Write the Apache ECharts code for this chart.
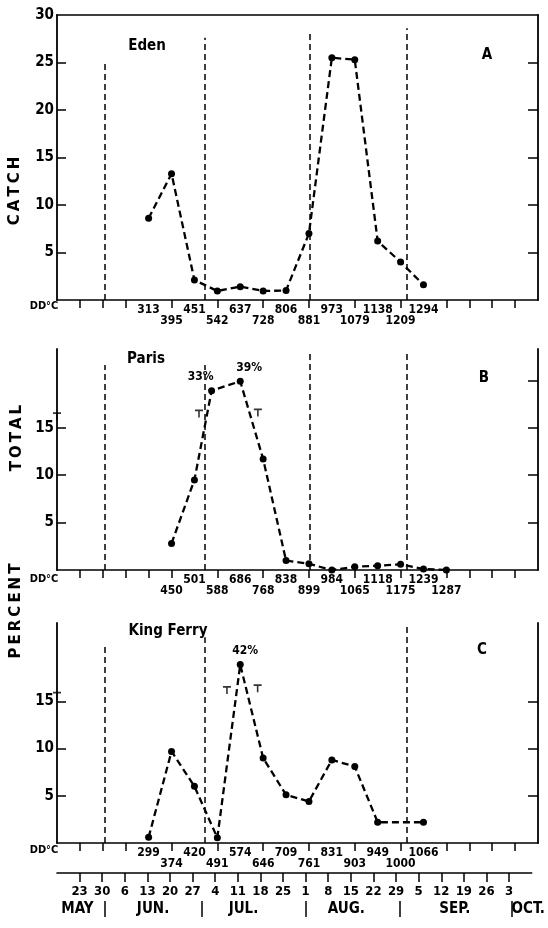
<!DOCTYPE html>
<html><head><meta charset="utf-8">
<script src="https://cdn.jsdelivr.net/npm/echarts@6/dist/echarts.min.js"></script>
<style>html,body{margin:0;padding:0;background:#fff}#c{width:548px;height:928px}</style>
</head><body><div id="c"></div>
<script>
// x values are week indices: 0 = May 23, 1 = May 30, ... 19 = Oct 3
const weekDates = ['23','30','6','13','20','27','4','11','18','25','1','8','15','22','29','5','12','19','26','3'];
const monthNames = ['MAY','JUN.','JUL.','AUG.','SEP.','OCT.'];
const monthNamePos = [-0.1, 3.25, 7.25, 11.8, 16.6, 19.85];
const monthSeparators = [1.1, 5.42, 10.0, 14.15, 19.13];
const monthLines = [1.1, 5.45, 10.05, 14.25];

// Panel A: Eden (catch)
const edenWeeks = [3,4,5,6,7,8,9,10,11,12,13,14,15];
const edenDD = [313,395,451,542,637,728,806,881,973,1079,1138,1209,1294];
const edenCatch = [8.6,13.3,2.1,0.95,1.4,0.95,1.0,7.0,25.5,25.3,6.2,4.0,1.6];
const edenLineTops = [25.1,27.6,28.2,28.6];

// Panel B: Paris (total percent)
const parisWeeks = [4,5,5.75,7,8,9,10,11,12,13,14,15,16];
const parisDDWeeks = [4,5,6,7,8,9,10,11,12,13,14,15,16];
const parisDD = [450,501,588,686,768,838,899,984,1065,1118,1175,1239,1287];
const parisPct = [2.8,9.5,18.9,19.9,11.7,1.0,0.65,0,0.35,0.45,0.6,0.1,0];
const parisNotes = ['','','33%','39%','','','','','','','','',''];
const parisBreaks = [[5.2,16.5],[7.77,16.6],[-1,16.2]];
const parisLineTops = [21.6,21.6,23.1,23.1];

// Panel C: King Ferry (total percent)
const kfWeeks = [3,4,5,6,7,8,9,10,11,12,13,15];
const kfDDWeeks = [3,4,5,6,7,8,9,10,11,12,13,14,15];
const kfDD = [299,374,420,491,574,646,709,761,831,903,949,1000,1066];
const kfPct = [0.6,9.7,6.0,0.55,18.9,9.0,5.1,4.4,8.8,8.1,2.2,2.2];
const kfNotes = ['','','','','42%','','','','','','',''];
const kfBreaks = [[6.42,16.2],[7.76,16.4],[-1,15.6]];
const kfLineTops = [21.1,21.8,23.4,23.2];

const FONT = "'Liberation Sans Narrow','DejaVu Sans Condensed','Arial Narrow',sans-serif";
const BOLD = {color:'#000', fontFamily:FONT, fontWeight:'bold'};
const ALLW = weekDates.map((d,i)=>i);
const noteOffset = {'33%':[-11,0], '39%':[9,0], '42%':[5,0]};
const TSYM = 'path://M0,0L10,0L10,2L6,2L6,9L4,9L4,2L0,2Z';

function nearestIdx(arr, v){let b=-1,bd=1e9;arr.forEach((a,i)=>{const d=Math.abs(a-v);if(d<bd){bd=d;b=i;}});return bd<0.01?b:-1;}

function ddAxes(gridIndex, ddWeeks, dd){
  const upper = ddWeeks.filter(w=>w%2===1);
  const lower = ddWeeks.filter(w=>w%2===0);
  const lab = v => {const k=nearestIdx(ddWeeks,v);return k>=0?String(dd[k]):'';};
  const base = {type:'value', gridIndex, position:'bottom', min:-1, max:20, splitLine:{show:false}};
  return [
    Object.assign({}, base, {
      axisLine:{show:true, onZero:false, lineStyle:{color:'#000', width:1.6}},
      axisTick:{show:true, inside:false, length:8, lineStyle:{color:'#000', width:1.5}, customValues: ALLW.filter(w=>!upper.includes(w))},
      axisLabel:Object.assign({show:true, customValues:upper, formatter:lab, margin:4, fontSize:12}, BOLD)}),
    Object.assign({}, base, {
      axisLine:{show:false, onZero:false}, axisTick:{show:false},
      axisLabel:Object.assign({show:true, customValues:lower, formatter:lab, margin:15, fontSize:12}, BOLD)})
  ];
}
function yAxes(gridIndex, max, leftLabels, leftTicks, rightTicks){
  return [
    {type:'value', gridIndex, position:'left', min:0, max, splitLine:{show:false},
     axisLine:{show:true, onZero:false, lineStyle:{color:'#000', width:1.8}},
     axisTick:{show:true, inside:true, length:9, customValues:leftTicks, lineStyle:{color:'#000', width:1.5}},
     axisLabel:Object.assign({show:true, customValues:leftLabels, margin:3, fontSize:15}, BOLD)},
    {type:'value', gridIndex, position:'right', min:0, max, splitLine:{show:false},
     axisLine:{show:true, onZero:false, lineStyle:{color:'#000', width:1.8}},
     axisTick:{show:true, inside:true, length:10, customValues:rightTicks, lineStyle:{color:'#000', width:1.5}},
     axisLabel:{show:false}}
  ];
}
function lineSeries(xi, yi, weeks, vals, notes, tops){
  return {
    type:'line', xAxisIndex:xi, yAxisIndex:yi, clip:false,
    symbol:'circle', symbolSize:7, itemStyle:{color:'#000'},
    lineStyle:{color:'#000', width:2.3, type:[7,4]},
    data: weeks.map((w,i)=>{
      const n = notes ? notes[i] : '';
      const item = {value:[w, vals[i]]};
      if(n){ item.label = Object.assign({show:true, formatter:n, position:'top', distance:4, offset:noteOffset[n]||[0,0], fontSize:12}, BOLD); }
      return item;
    }),
    markLine:{silent:true, symbol:'none', label:{show:false},
      lineStyle:{color:'#000', width:1.5, type:[6,4]},
      data: monthLines.map((x,k)=>[{coord:[x,0]},{coord:[x,tops[k]]}])}
  };
}
function breakSeries(xi, yi, pts){
  return {type:'scatter', xAxisIndex:xi, yAxisIndex:yi, clip:false, symbol:TSYM, symbolSize:[8,8],
          itemStyle:{color:'#000'}, data:pts, silent:true};
}

const xAxis = [].concat(
  ddAxes(0, edenWeeks, edenDD),                       // 0,1
  [{type:'value', gridIndex:0, position:'top', min:-1, max:20, axisLine:{show:true, onZero:false, lineStyle:{color:'#000', width:1.6}}, axisTick:{show:false}, axisLabel:{show:false}, splitLine:{show:false}}], // 2
  ddAxes(1, parisDDWeeks, parisDD),                   // 3,4
  ddAxes(2, kfDDWeeks, kfDD),                         // 5,6
  [{type:'value', gridIndex:3, position:'bottom', min:-1, max:20, splitLine:{show:false},
    axisLine:{show:true, onZero:false, lineStyle:{color:'#000', width:1.6}},
    axisTick:{show:true, length:9, customValues:ALLW, lineStyle:{color:'#000', width:1.5}},
    axisLabel:Object.assign({customValues:ALLW, formatter:v=>{const k=nearestIdx(ALLW,v);return k>=0?weekDates[k]:'';}, margin:12, fontSize:13}, BOLD)}, // 7
   {type:'value', gridIndex:3, position:'bottom', offset:28, min:-1, max:20, splitLine:{show:false},
    axisLine:{show:false, onZero:false},
    axisTick:{show:true, length:16, customValues:monthSeparators, lineStyle:{color:'#000', width:1.5}},
    axisLabel:Object.assign({customValues:monthNamePos, formatter:v=>{const k=nearestIdx(monthNamePos,v);return k>=0?monthNames[k]:'';}, margin:1, fontSize:15}, BOLD)} // 8
  ]
);
const yAxis = [].concat(
  yAxes(0, 30, [5,10,15,20,25,30], [5,10,15,20,25], [5,10,15,20,25]),  // 0,1
  yAxes(1, 23.3, [5,10,15], [5,10,15], [5,10,15,20]),                   // 2,3
  yAxes(2, 23.3, [5,10,15], [5,10,15], [5,10,15]),                      // 4,5
  [{type:'value', gridIndex:3, min:0, max:1, show:false}]                // 6
);

const sideText = (t, x, y) => ({type:'text', x, y, rotation:Math.PI/2,
  style:{text:t, font:"bold 15px 'DejaVu Sans',sans-serif", fill:'#000', align:'center', verticalAlign:'middle'}});
const txt = (t, x, y, size) => ({type:'text', x, y,
  style:{text:t, font:"bold "+size+"px "+FONT, fill:'#000', align:'center', verticalAlign:'middle'}});

const option = {
  animation:false,
  backgroundColor:'#fff',
  grid:[
    {left:57, right:10, top:15, height:285},
    {left:57, right:10, top:349, height:221},
    {left:57, right:10, top:623, height:220},
    {left:57, right:10, top:872, height:1}
  ],
  xAxis, yAxis,
  series:[
    lineSeries(0, 0, edenWeeks, edenCatch, null, edenLineTops),
    lineSeries(3, 2, parisWeeks, parisPct, parisNotes, parisLineTops),
    breakSeries(3, 2, parisBreaks),
    lineSeries(5, 4, kfWeeks, kfPct, kfNotes, kfLineTops),
    breakSeries(5, 4, kfBreaks)
  ],
  graphic:[
    sideText('C\u2009A\u2009T\u2009C\u2009H', 15, 191),
    sideText('T\u2009O\u2009T\u2009A\u2009L', 17, 438),
    sideText('P\u2009E\u2009R\u2009C\u2009E\u2009N\u2009T', 16, 611),
    txt('Eden', 147, 46, 15), txt('Paris', 146, 359, 15), txt('King Ferry', 168, 631, 15),
    txt('A', 487, 55, 15), txt('B', 484, 378, 15), txt('C', 482, 650, 15),
    txt('DD°C', 44, 306, 11), txt('DD°C', 44, 579, 11), txt('DD°C', 44, 850, 11)
  ]
};
echarts.init(document.getElementById('c')).setOption(option);
</script></body></html>
